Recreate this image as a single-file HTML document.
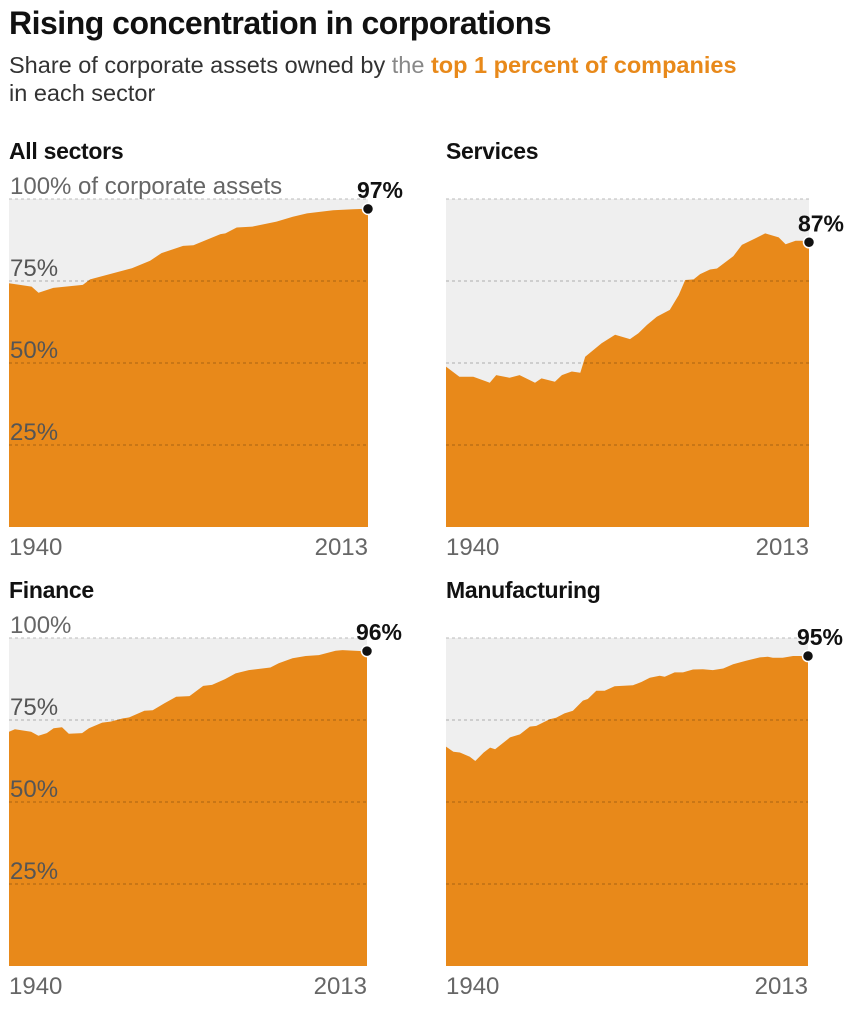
<!DOCTYPE html>
<html><head><meta charset="utf-8">
<style>
body{margin:0;background:#fff;width:857px;height:1024px;overflow:hidden;font-family:"Liberation Sans",sans-serif;}
h1{position:absolute;left:9px;top:5px;margin:0;font-size:32px;font-weight:bold;color:#111;letter-spacing:-0.5px}
.sub{position:absolute;left:9px;top:51px;font-size:23.5px;line-height:28px;color:#333}
.sub .the{color:#888}.sub b{color:#e8891a}
svg{position:absolute;left:0;top:0}
</style></head><body>
<h1>Rising concentration in corporations</h1>
<div class="sub">Share of corporate assets owned by <span class="the">the</span> <b>top 1 percent of companies</b><br>in each sector</div>
<svg id="c" width="857" height="1024"></svg>
<script>
const yearsAll=[1940,1944.6,1946,1949,1955,1956.5,1965,1968.7,1971,1975.4,1977.5,1983,1984,1986.3,1989.5,1994.4,1997.7,2000.6,2005.9,2010,2013];
const valsAll=[74.3,73.3,71.4,72.9,73.8,75.5,78.9,81.2,83.5,85.7,85.9,89.3,89.5,91.3,91.6,93.1,94.6,95.6,96.6,96.9,97];
const yearsSvc=[1940,1942.7,1945.5,1948.8,1950.1,1952.8,1954.8,1957.9,1959.2,1961.9,1963.3,1965.3,1967,1968,1971.3,1974,1977,1978.7,1980.4,1982.4,1985,1986.8,1988.1,1989.8,1991.1,1993.1,1994.5,1997.8,1999.5,2002.2,2004.2,2006.9,2008.3,2010.3,2011.6,2013];
const valsSvc=[48.9,45.8,45.8,44,46.3,45.5,46.3,44,45.3,44.3,46.3,47.4,47,51.9,56,58.6,57.3,59.1,61.6,64.1,66.2,70.7,75.3,75.5,77.1,78.5,78.8,82.6,86,88,89.5,88.3,86.2,87.3,87.3,86.8];
const yearsFin=[1940,1941.2,1944.5,1946,1947.7,1949.1,1950.8,1952.2,1954.9,1956.3,1959,1960.7,1963.2,1964.5,1967.6,1969.3,1971.7,1974.1,1976.8,1979.6,1981.4,1984,1986.2,1988.9,1993.3,1995,1997.8,2000.5,2003.2,2006.6,2008,2012,2013];
const valsFin=[71.4,72.2,71.4,70.2,71,72.5,72.8,70.8,71,72.5,74.2,74.5,75.5,75.8,77.8,78,80.1,82.1,82.3,85.4,85.7,87.4,89.2,90.2,91,92.3,93.8,94.5,94.8,96.1,96.3,96,96];
const yearsMfg=[1940,1941.5,1942.8,1944.8,1945.9,1947.6,1948.9,1949.9,1952.9,1954.9,1956.9,1958.2,1960.9,1962.2,1963.9,1965.6,1967.6,1968.6,1970.3,1972,1974,1977.7,1979.4,1981.1,1983.1,1984.1,1986.1,1987.8,1989.8,1991.8,1993.8,1995.9,1997.9,2000.6,2003.3,2004.9,2005.9,2007.9,2010,2011.6,2013];
const valsMfg=[66.9,65.3,65.1,63.8,62.5,65.1,66.6,66.1,69.7,70.6,73,73.2,75.2,75.7,77,77.8,80.9,81.4,83.9,83.9,85.3,85.6,86.6,87.9,88.5,88.2,89.5,89.5,90.4,90.5,90.2,90.7,92,93.1,94.1,94.3,94,94,94.5,94.5,94.5];
const panelNames=["All sectors","Services","Finance","Manufacturing"];
const endLabels=["97%","87%","96%","95%"];
const tickVals=[25,50,75,100];
const yearRange=[1940,2013];

const NS="http://www.w3.org/2000/svg";
const svg=document.getElementById('c');
function mk(tag,attrs,parent){const e=document.createElementNS(NS,tag);for(const k in attrs)e.setAttribute(k,attrs[k]);(parent||svg).appendChild(e);return e;}
const panels=[
 {x0:9,x1:368,top:199,bot:527,ys:yearsAll,vs:valsAll,labels:true,first:true},
 {x0:446,x1:809,top:199,bot:527,ys:yearsSvc,vs:valsSvc,labels:false},
 {x0:9,x1:367,top:638,bot:966,ys:yearsFin,vs:valsFin,labels:true},
 {x0:446,x1:808,top:638,bot:966,ys:yearsMfg,vs:valsMfg,labels:false}
];
panels.forEach((p,i)=>{
 const g=mk('g',{});
 
 
 const X=y=>p.x0+(y-yearRange[0])/(yearRange[1]-yearRange[0])*(p.x1-p.x0);
 const Y=v=>p.bot-v/100*(p.bot-p.top);
 const t=mk('text',{x:p.x0,y:p.top-40,'font-size':23,'font-weight':'bold',fill:'#111','letter-spacing':'-0.3'},g);
 t.textContent=panelNames[i];
 
 
 const bg=mk('rect',{x:p.x0,y:Y(100),width:p.x1-p.x0,height:p.bot-Y(100),fill:'#efefef'},g);
 
 
 let d='M'+X(p.ys[0])+','+p.bot;
 p.ys.forEach((yr,j)=>{d+=' L'+X(yr).toFixed(1)+','+Y(p.vs[j]).toFixed(1);});
 d+=' L'+X(p.ys[p.ys.length-1])+','+p.bot+' Z';
 const a=mk('path',{d:d,fill:'#e8891a'},g);
 
 
 tickVals.forEach(v=>{
  const l=mk('line',{x1:p.x0,x2:p.x1,y1:Y(v),y2:Y(v),stroke:v==100?'#bbb':'rgba(0,0,0,0.28)','stroke-dasharray':'3,3','stroke-width':1},g);
  
  
  if(p.labels){
   const tx=mk('text',{x:p.x0+1,y:Y(v)-5,'font-size':24,fill:v==100?'#666':'#555'},g);
   tx.textContent=(v==100&&p.first)?'100% of corporate assets':v+'%';
   
   
  }
 });
 const lastY=p.ys[p.ys.length-1],lastV=p.vs[p.vs.length-1];
 const dot=mk('circle',{cx:X(lastY),cy:Y(lastV),r:5.5,fill:'#111',stroke:'#fff','stroke-width':1.5},g);
 
 
 const el=mk('text',{x:X(lastY)+35,y:Y(lastV)-11,'font-size':23,'font-weight':'bold',fill:'#111','text-anchor':'end'},g);
 el.textContent=endLabels[i];
 
 
 const x1=mk('text',{x:p.x0,y:p.bot+28,'font-size':24,fill:'#666'},g);
 x1.textContent=String(yearRange[0]);
 
 
 const x2=mk('text',{x:p.x1,y:p.bot+28,'font-size':24,fill:'#666','text-anchor':'end'},g);
 x2.textContent=String(yearRange[1]);
 
 
});
</script>
</body></html>
